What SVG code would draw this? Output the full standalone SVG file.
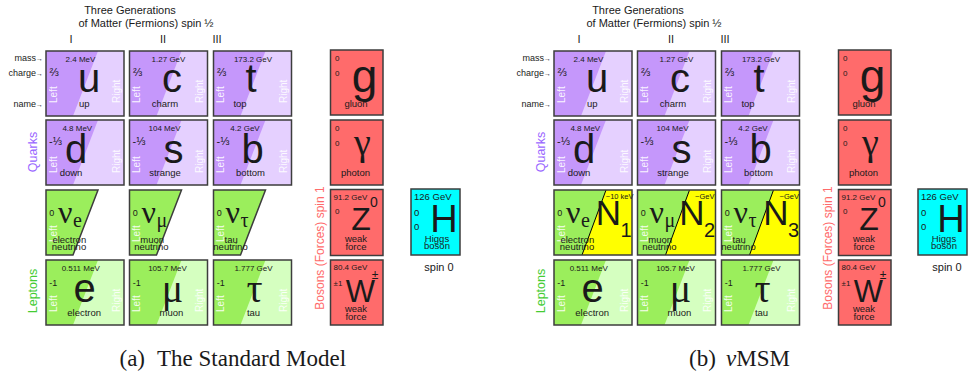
<svg xmlns="http://www.w3.org/2000/svg" width="969" height="377" viewBox="0 0 969 377">
<style>
text{font-family:"Liberation Sans",Arial,sans-serif;fill:#1a1a1a}
.frame{fill:none;stroke:#3d3d3d;stroke-width:1.5}
.qL{fill:#e5d0ff}.qD{fill:#c597fb}
.lL{fill:#d5ffc0}.lD{fill:#9bee5c}
.yel{fill:#ffff00}
.m{font-size:8px;text-anchor:middle}
.ch{font-size:9px}
.fr{font-size:11px}
.big{font-size:40px;text-anchor:middle}
.grk{font-family:"Liberation Serif","Times New Roman",serif;font-size:40px;text-anchor:middle}
.nm{font-size:9.5px;text-anchor:middle}
.lr{font-size:10px;fill:#fff;fill-opacity:0.9}
.nu{font-family:"Liberation Serif","Times New Roman",serif;font-size:32px}
.sub{font-family:"Liberation Serif","Times New Roman",serif;font-size:20px}
.N{font-size:35px;text-anchor:end}
.Ns{font-size:20px}
.tiny{font-size:7.5px;text-anchor:end}
.bm{font-size:8px}
.lab{font-size:9px;text-anchor:end}
.hd{font-size:11px;text-anchor:middle}
.vq{font-size:12.5px;fill:#9966ff;text-anchor:middle}
.vl{font-size:12.5px;fill:#44cc33;text-anchor:middle}
.vb{font-size:12px;fill:#ff6b6b;text-anchor:middle}
.cap{font-family:"Liberation Serif","Times New Roman",serif;font-size:23px}
</style>

<!-- ================= Panel (a) ================= -->
<g id="panel-a">
<g id="a-labels">
<text class="hd" x="130" y="14">Three Generations</text>
<text class="hd" x="146" y="27">of Matter (Fermions) spin ½</text>
<text class="hd" x="71" y="43">I</text>
<text class="hd" x="163" y="43">II</text>
<text class="hd" x="217" y="43">III</text>
<text class="lab" x="43" y="61">mass<tspan font-size="7">→</tspan></text>
<text class="lab" x="43" y="76">charge<tspan font-size="7">→</tspan></text>
<text class="lab" x="43" y="107">name<tspan font-size="7">→</tspan></text>
<text class="vq" transform="translate(37,152) rotate(-90)">Quarks</text>
<text class="vl" transform="translate(37,291) rotate(-90)">Leptons</text>
<text class="vb" transform="translate(323.5,248) rotate(-90)">Bosons (Forces) spin 1</text>
<text class="hd" x="439" y="270.5">spin 0</text>
<text class="cap" x="119.5" y="366">(a)</text>
<text class="cap" x="157" y="366">The Standard Model</text>
</g>

<g id="a-up" transform="translate(46,51)">
<rect class="qL" width="78" height="65"/><polygon class="qD" points="0,0 52,0 27,65 0,65"/><rect class="frame" width="78" height="65"/>
<text class="m" x="34.5" y="10.5">2.4 MeV</text><text class="fr" x="3.5" y="24.5">⅔</text>
<text class="big" x="43" y="41">u</text><text class="nm" x="38.3" y="56">up</text>
<text class="lr" transform="translate(10.5,52) rotate(-90)">Left</text><text class="lr" transform="translate(73.5,52) rotate(-90)">Right</text>
</g>
<g id="a-charm" transform="translate(129.5,51)">
<rect class="qL" width="78" height="65"/><polygon class="qD" points="0,0 52,0 27,65 0,65"/><rect class="frame" width="78" height="65"/>
<text class="m" x="39" y="10.5">1.27 GeV</text><text class="fr" x="3.5" y="24.5">⅔</text>
<text class="big" x="42.5" y="41">c</text><text class="nm" x="35.5" y="56">charm</text>
<text class="lr" transform="translate(10.5,52) rotate(-90)">Left</text><text class="lr" transform="translate(73.5,52) rotate(-90)">Right</text>
</g>
<g id="a-top" transform="translate(213.5,51)">
<rect class="qL" width="78" height="65"/><polygon class="qD" points="0,0 52,0 27,65 0,65"/><rect class="frame" width="78" height="65"/>
<text class="m" x="39.5" y="10.5">173.2 GeV</text><text class="fr" x="3.5" y="24.5">⅔</text>
<text class="big" x="37.5" y="41">t</text><text class="nm" x="26.5" y="56">top</text>
<text class="lr" transform="translate(10.5,52) rotate(-90)">Left</text><text class="lr" transform="translate(73.5,52) rotate(-90)">Right</text>
</g>
<g id="a-down" transform="translate(46,120)">
<rect class="qL" width="78" height="65"/><polygon class="qD" points="0,0 52,0 27,65 0,65"/><rect class="frame" width="78" height="65"/>
<text class="m" x="31.3" y="10.5">4.8 MeV</text><text class="fr" x="3" y="25">-⅓</text>
<text class="big" x="30" y="43">d</text><text class="nm" x="25" y="56">down</text>
<text class="lr" transform="translate(10.5,53) rotate(-90)">Left</text><text class="lr" transform="translate(73.5,53) rotate(-90)">Right</text>
</g>
<g id="a-strange" transform="translate(129.5,120)">
<rect class="qL" width="78" height="65"/><polygon class="qD" points="0,0 52,0 27,65 0,65"/><rect class="frame" width="78" height="65"/>
<text class="m" x="35" y="10.5">104 MeV</text><text class="fr" x="3" y="25">-⅓</text>
<text class="big" x="44" y="43">s</text><text class="nm" x="35.5" y="56">strange</text>
<text class="lr" transform="translate(10.5,53) rotate(-90)">Left</text><text class="lr" transform="translate(73.5,53) rotate(-90)">Right</text>
</g>
<g id="a-bottom" transform="translate(213.5,120)">
<rect class="qL" width="78" height="65"/><polygon class="qD" points="0,0 52,0 27,65 0,65"/><rect class="frame" width="78" height="65"/>
<text class="m" x="31.5" y="10.5">4.2 GeV</text><text class="fr" x="3" y="25">-⅓</text>
<text class="big" x="39" y="43">b</text><text class="nm" x="37" y="56">bottom</text>
<text class="lr" transform="translate(10.5,53) rotate(-90)">Left</text><text class="lr" transform="translate(73.5,53) rotate(-90)">Right</text>
</g>
<g id="a-nu-e" transform="translate(46,190)">
<polygon class="lD" points="0,0 52,0 27,65 0,65" stroke="#3d3d3d" stroke-width="1.5"/>
<text class="ch" x="3.3" y="26">0</text><text class="nu" x="12" y="33">ν</text><text class="sub" x="27" y="37">e</text>
<text class="lr" transform="translate(10.5,52) rotate(-90)">Left</text>
<text class="nm" x="23.3" y="52.5">electron</text><text class="nm" x="23" y="60">neutrino</text>
</g>
<g id="a-nu-mu" transform="translate(129.5,190)">
<polygon class="lD" points="0,0 52,0 27,65 0,65" stroke="#3d3d3d" stroke-width="1.5"/>
<text class="ch" x="3.3" y="26">0</text><text class="nu" x="12" y="33">ν</text><text class="sub" x="27" y="37">μ</text>
<text class="lr" transform="translate(10.5,52) rotate(-90)">Left</text>
<text class="nm" x="22.7" y="52.5">muon</text><text class="nm" x="21.8" y="60">neutrino</text>
</g>
<g id="a-nu-tau" transform="translate(213.5,190)">
<polygon class="lD" points="0,0 52,0 27,65 0,65" stroke="#3d3d3d" stroke-width="1.5"/>
<text class="ch" x="3.3" y="26">0</text><text class="nu" x="12" y="33">ν</text><text class="sub" x="27" y="37">τ</text>
<text class="lr" transform="translate(10.5,52) rotate(-90)">Left</text>
<text class="nm" x="17.7" y="52.5">tau</text><text class="nm" x="17" y="60">neutrino</text>
</g>
<g id="a-electron" transform="translate(46,260)">
<rect class="lL" width="78" height="65"/><polygon class="lD" points="0,0 52,0 27,65 0,65"/><rect class="frame" width="78" height="65"/>
<text class="m" x="34.7" y="10.5">0.511 MeV</text><text class="ch" x="3.3" y="25.5">-1</text>
<text class="big" x="38.7" y="42">e</text><text class="nm" x="38.2" y="56">electron</text>
<text class="lr" transform="translate(10.5,52) rotate(-90)">Left</text><text class="lr" transform="translate(73.5,52) rotate(-90)">Right</text>
</g>
<g id="a-muon" transform="translate(129.5,260)">
<rect class="lL" width="78" height="65"/><polygon class="lD" points="0,0 52,0 27,65 0,65"/><rect class="frame" width="78" height="65"/>
<text class="m" x="38" y="10.5">105.7 MeV</text><text class="ch" x="3.3" y="25.5">-1</text>
<text class="grk" x="43" y="42">μ</text><text class="nm" x="42" y="56">muon</text>
<text class="lr" transform="translate(10.5,52) rotate(-90)">Left</text><text class="lr" transform="translate(73.5,52) rotate(-90)">Right</text>
</g>
<g id="a-tau" transform="translate(213.5,260)">
<rect class="lL" width="78" height="65"/><polygon class="lD" points="0,0 52,0 27,65 0,65"/><rect class="frame" width="78" height="65"/>
<text class="m" x="40" y="10.5">1.777 GeV</text><text class="ch" x="3.3" y="25.5">-1</text>
<text class="grk" x="41" y="42">τ</text><text class="nm" x="40" y="56">tau</text>
<text class="lr" transform="translate(10.5,52) rotate(-90)">Left</text><text class="lr" transform="translate(73.5,52) rotate(-90)">Right</text>
</g>
<g id="a-gluon" transform="translate(330.5,50)">
<rect class="frame" style="fill:#ff6b6b" width="52.5" height="65"/>
<text class="bm" x="4.5" y="10.7">0</text><text class="bm" x="4.5" y="25.7">0</text>
<text class="big" style="font-size:46px" x="34" y="41.7">g</text><text class="nm" x="25.5" y="56.7">gluon</text>
</g>
<g id="a-photon" transform="translate(330.5,120)">
<rect class="frame" style="fill:#ff6b6b" width="52.5" height="65"/>
<text class="bm" x="4.5" y="10.7">0</text><text class="bm" x="4.5" y="25.7">0</text>
<text class="grk" style="font-size:38px" x="32" y="35">γ</text><text class="nm" x="25" y="55.7">photon</text>
</g>
<g id="a-z" transform="translate(330.5,189.5)">
<rect class="frame" style="fill:#ff6b6b" width="52.5" height="66"/>
<text class="bm" x="3" y="10">91.2 GeV</text><text class="bm" x="4.5" y="24.5">0</text>
<text class="big" style="font-size:32px" x="30.5" y="40.5">Z</text><text style="font-size:14px" x="39.5" y="17">0</text>
<text class="nm" x="25.5" y="52">weak</text><text class="nm" x="25.5" y="60">force</text>
</g>
<g id="a-w" transform="translate(330.5,260)">
<rect class="frame" style="fill:#ff6b6b" width="52.5" height="65"/>
<text class="bm" x="3" y="10">80.4 GeV</text><text class="bm" x="3" y="26">±1</text>
<text class="big" style="font-size:31px" x="30" y="41.7">W</text><text style="font-size:12px;text-anchor:middle" x="44.5" y="19">±</text>
<text class="nm" x="25.5" y="52">weak</text><text class="nm" x="25.5" y="59.5">force</text>
</g>
<g id="a-higgs" transform="translate(411,189)">
<rect class="frame" style="fill:#00ffff" width="49" height="66"/>
<text style="font-size:9.5px" x="3" y="11">126 GeV</text><text style="font-size:9.5px" x="3" y="26.7">0</text><text style="font-size:9.5px" x="3" y="41">0</text>
<text class="big" style="font-size:38px" x="33" y="42.7">H</text>
<text class="nm" x="26" y="52.7">Higgs</text><text class="nm" x="26" y="60.3">boson</text>
</g>
</g>

<!-- ================= Panel (b) ================= -->
<g id="panel-b" transform="translate(508,0)">
<g id="b-labels">
<text class="hd" x="130" y="14">Three Generations</text>
<text class="hd" x="146" y="27">of Matter (Fermions) spin ½</text>
<text class="hd" x="71" y="43">I</text>
<text class="hd" x="163" y="43">II</text>
<text class="hd" x="217" y="43">III</text>
<text class="lab" x="43" y="61">mass<tspan font-size="7">→</tspan></text>
<text class="lab" x="43" y="76">charge<tspan font-size="7">→</tspan></text>
<text class="lab" x="43" y="107">name<tspan font-size="7">→</tspan></text>
<text class="vq" transform="translate(37,152) rotate(-90)">Quarks</text>
<text class="vl" transform="translate(37,291) rotate(-90)">Leptons</text>
<text class="vb" transform="translate(323.5,248) rotate(-90)">Bosons (Forces) spin 1</text>
<text class="hd" x="439" y="270.5">spin 0</text>
<text class="cap" x="181" y="366">(b)</text>
<text class="cap" x="218" y="366"><tspan font-style="italic">ν</tspan>MSM</text>
</g>

<g id="b-up" transform="translate(46,51)">
<rect class="qL" width="78" height="65"/><polygon class="qD" points="0,0 52,0 27,65 0,65"/><rect class="frame" width="78" height="65"/>
<text class="m" x="34.5" y="10.5">2.4 MeV</text><text class="fr" x="3.5" y="24.5">⅔</text>
<text class="big" x="43" y="41">u</text><text class="nm" x="38.3" y="56">up</text>
<text class="lr" transform="translate(10.5,52) rotate(-90)">Left</text><text class="lr" transform="translate(73.5,52) rotate(-90)">Right</text>
</g>
<g id="b-charm" transform="translate(129.5,51)">
<rect class="qL" width="78" height="65"/><polygon class="qD" points="0,0 52,0 27,65 0,65"/><rect class="frame" width="78" height="65"/>
<text class="m" x="39" y="10.5">1.27 GeV</text><text class="fr" x="3.5" y="24.5">⅔</text>
<text class="big" x="42.5" y="41">c</text><text class="nm" x="35.5" y="56">charm</text>
<text class="lr" transform="translate(10.5,52) rotate(-90)">Left</text><text class="lr" transform="translate(73.5,52) rotate(-90)">Right</text>
</g>
<g id="b-top" transform="translate(213.5,51)">
<rect class="qL" width="78" height="65"/><polygon class="qD" points="0,0 52,0 27,65 0,65"/><rect class="frame" width="78" height="65"/>
<text class="m" x="39.5" y="10.5">173.2 GeV</text><text class="fr" x="3.5" y="24.5">⅔</text>
<text class="big" x="37.5" y="41">t</text><text class="nm" x="26.5" y="56">top</text>
<text class="lr" transform="translate(10.5,52) rotate(-90)">Left</text><text class="lr" transform="translate(73.5,52) rotate(-90)">Right</text>
</g>
<g id="b-down" transform="translate(46,120)">
<rect class="qL" width="78" height="65"/><polygon class="qD" points="0,0 52,0 27,65 0,65"/><rect class="frame" width="78" height="65"/>
<text class="m" x="31.3" y="10.5">4.8 MeV</text><text class="fr" x="3" y="25">-⅓</text>
<text class="big" x="30" y="43">d</text><text class="nm" x="25" y="56">down</text>
<text class="lr" transform="translate(10.5,53) rotate(-90)">Left</text><text class="lr" transform="translate(73.5,53) rotate(-90)">Right</text>
</g>
<g id="b-strange" transform="translate(129.5,120)">
<rect class="qL" width="78" height="65"/><polygon class="qD" points="0,0 52,0 27,65 0,65"/><rect class="frame" width="78" height="65"/>
<text class="m" x="35" y="10.5">104 MeV</text><text class="fr" x="3" y="25">-⅓</text>
<text class="big" x="44" y="43">s</text><text class="nm" x="35.5" y="56">strange</text>
<text class="lr" transform="translate(10.5,53) rotate(-90)">Left</text><text class="lr" transform="translate(73.5,53) rotate(-90)">Right</text>
</g>
<g id="b-bottom" transform="translate(213.5,120)">
<rect class="qL" width="78" height="65"/><polygon class="qD" points="0,0 52,0 27,65 0,65"/><rect class="frame" width="78" height="65"/>
<text class="m" x="31.5" y="10.5">4.2 GeV</text><text class="fr" x="3" y="25">-⅓</text>
<text class="big" x="39" y="43">b</text><text class="nm" x="37" y="56">bottom</text>
<text class="lr" transform="translate(10.5,53) rotate(-90)">Left</text><text class="lr" transform="translate(73.5,53) rotate(-90)">Right</text>
</g>
<g id="b-nu-e" transform="translate(46,190)">
<rect class="yel" width="78" height="65"/><polygon class="lD" points="0,0 52,0 28,65 0,65"/>
<line x1="52" y1="0" x2="28" y2="65" stroke="#000" stroke-width="1"/><rect class="frame" width="78" height="65"/>
<text class="ch" x="3.3" y="26">0</text><text class="nu" x="12" y="33">ν</text><text class="sub" x="27" y="37">e</text>
<text class="lr" transform="translate(10.5,52) rotate(-90)">Left</text>
<text class="nm" x="23.3" y="52.5">electron</text><text class="nm" x="23" y="60">neutrino</text>
<text class="N" x="67" y="35">N</text><text class="Ns" x="66.5" y="46.5">1</text>
<text class="tiny" x="79.5" y="8.5">~10 keV</text>
</g>
<g id="b-nu-mu" transform="translate(129.5,190)">
<rect class="yel" width="78" height="65"/><polygon class="lD" points="0,0 52,0 28,65 0,65"/>
<line x1="52" y1="0" x2="28" y2="65" stroke="#000" stroke-width="1"/><rect class="frame" width="78" height="65"/>
<text class="ch" x="3.3" y="26">0</text><text class="nu" x="12" y="33">ν</text><text class="sub" x="27" y="37">μ</text>
<text class="lr" transform="translate(10.5,52) rotate(-90)">Left</text>
<text class="nm" x="22.7" y="52.5">muon</text><text class="nm" x="21.8" y="60">neutrino</text>
<text class="N" x="67" y="35">N</text><text class="Ns" x="66.5" y="46.5">2</text>
<text class="tiny" x="77" y="8.5">~GeV</text>
</g>
<g id="b-nu-tau" transform="translate(213.5,190)">
<rect class="yel" width="78" height="65"/><polygon class="lD" points="0,0 52,0 28,65 0,65"/>
<line x1="52" y1="0" x2="28" y2="65" stroke="#000" stroke-width="1"/><rect class="frame" width="78" height="65"/>
<text class="ch" x="3.3" y="26">0</text><text class="nu" x="12" y="33">ν</text><text class="sub" x="27" y="37">τ</text>
<text class="lr" transform="translate(10.5,52) rotate(-90)">Left</text>
<text class="nm" x="17.7" y="52.5">tau</text><text class="nm" x="17" y="60">neutrino</text>
<text class="N" x="67" y="35">N</text><text class="Ns" x="66.5" y="46.5">3</text>
<text class="tiny" x="77.5" y="8.5">~GeV</text>
</g>
<g id="b-electron" transform="translate(46,260)">
<rect class="lL" width="78" height="65"/><polygon class="lD" points="0,0 52,0 27,65 0,65"/><rect class="frame" width="78" height="65"/>
<text class="m" x="34.7" y="10.5">0.511 MeV</text><text class="ch" x="3.3" y="25.5">-1</text>
<text class="big" x="38.7" y="42">e</text><text class="nm" x="38.2" y="56">electron</text>
<text class="lr" transform="translate(10.5,52) rotate(-90)">Left</text><text class="lr" transform="translate(73.5,52) rotate(-90)">Right</text>
</g>
<g id="b-muon" transform="translate(129.5,260)">
<rect class="lL" width="78" height="65"/><polygon class="lD" points="0,0 52,0 27,65 0,65"/><rect class="frame" width="78" height="65"/>
<text class="m" x="38" y="10.5">105.7 MeV</text><text class="ch" x="3.3" y="25.5">-1</text>
<text class="grk" x="43" y="42">μ</text><text class="nm" x="42" y="56">muon</text>
<text class="lr" transform="translate(10.5,52) rotate(-90)">Left</text><text class="lr" transform="translate(73.5,52) rotate(-90)">Right</text>
</g>
<g id="b-tau" transform="translate(213.5,260)">
<rect class="lL" width="78" height="65"/><polygon class="lD" points="0,0 52,0 27,65 0,65"/><rect class="frame" width="78" height="65"/>
<text class="m" x="40" y="10.5">1.777 GeV</text><text class="ch" x="3.3" y="25.5">-1</text>
<text class="grk" x="41" y="42">τ</text><text class="nm" x="40" y="56">tau</text>
<text class="lr" transform="translate(10.5,52) rotate(-90)">Left</text><text class="lr" transform="translate(73.5,52) rotate(-90)">Right</text>
</g>
<g id="b-gluon" transform="translate(330.5,50)">
<rect class="frame" style="fill:#ff6b6b" width="52.5" height="65"/>
<text class="bm" x="4.5" y="10.7">0</text><text class="bm" x="4.5" y="25.7">0</text>
<text class="big" style="font-size:46px" x="34" y="41.7">g</text><text class="nm" x="25.5" y="56.7">gluon</text>
</g>
<g id="b-photon" transform="translate(330.5,120)">
<rect class="frame" style="fill:#ff6b6b" width="52.5" height="65"/>
<text class="bm" x="4.5" y="10.7">0</text><text class="bm" x="4.5" y="25.7">0</text>
<text class="grk" style="font-size:38px" x="32" y="35">γ</text><text class="nm" x="25" y="55.7">photon</text>
</g>
<g id="b-z" transform="translate(330.5,189.5)">
<rect class="frame" style="fill:#ff6b6b" width="52.5" height="66"/>
<text class="bm" x="3" y="10">91.2 GeV</text><text class="bm" x="4.5" y="24.5">0</text>
<text class="big" style="font-size:32px" x="30.5" y="40.5">Z</text><text style="font-size:14px" x="39.5" y="17">0</text>
<text class="nm" x="25.5" y="52">weak</text><text class="nm" x="25.5" y="60">force</text>
</g>
<g id="b-w" transform="translate(330.5,260)">
<rect class="frame" style="fill:#ff6b6b" width="52.5" height="65"/>
<text class="bm" x="3" y="10">80.4 GeV</text><text class="bm" x="3" y="26">±1</text>
<text class="big" style="font-size:31px" x="30" y="41.7">W</text><text style="font-size:12px;text-anchor:middle" x="44.5" y="19">±</text>
<text class="nm" x="25.5" y="52">weak</text><text class="nm" x="25.5" y="59.5">force</text>
</g>
<g id="b-higgs" transform="translate(410,189)">
<rect class="frame" style="fill:#00ffff" width="49" height="66"/>
<text style="font-size:9.5px" x="3" y="11">126 GeV</text><text style="font-size:9.5px" x="3" y="26.7">0</text><text style="font-size:9.5px" x="3" y="41">0</text>
<text class="big" style="font-size:38px" x="33" y="42.7">H</text>
<text class="nm" x="26" y="52.7">Higgs</text><text class="nm" x="26" y="60.3">boson</text>
</g>
</g>
</svg>
